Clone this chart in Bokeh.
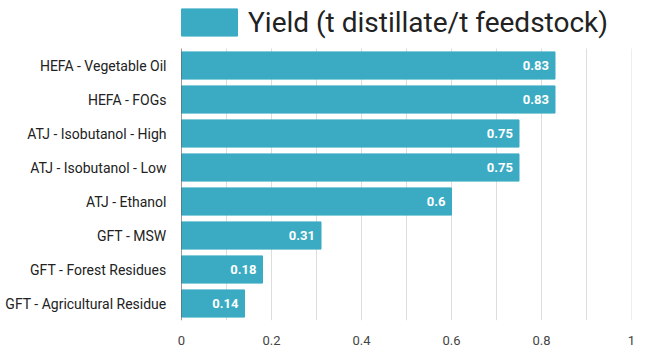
from bokeh.plotting import figure
from bokeh.models import ColumnDataSource, Range1d, FixedTicker, Legend, LegendItem, LabelSet
from bokeh.embed import file_html
from bokeh.resources import INLINE
from bokeh.core.properties import value

categories = ["HEFA - Vegetable Oil", "HEFA - FOGs", "ATJ - Isobutanol - High",
              "ATJ - Isobutanol - Low", "ATJ - Ethanol", "GFT - MSW",
              "GFT - Forest Residues", "GFT - Agricultural Residue"]
yields = [0.83, 0.83, 0.75, 0.75, 0.6, 0.31, 0.18, 0.14]
series_name = "Yield (t distillate/t feedstock)"
x_ticks = [0, 0.2, 0.4, 0.6, 0.8, 1]
x_grid = [0.1, 0.2, 0.3, 0.4, 0.5, 0.6, 0.7, 0.8, 0.9, 1.0]

n = len(categories)
ypos = list(range(n, 0, -1))  # first category on top
src = ColumnDataSource(dict(y=ypos, val=yields, lab=[f"{v:g}" for v in yields]))

FRAME_W, FRAME_H = 450, 320
ROW_PX = 34
TOP_PX = 48  # space above the rows for the legend
p = figure(frame_width=FRAME_W, frame_height=FRAME_H, output_backend="svg", toolbar_location=None,
           x_range=Range1d(0, 1), y_range=Range1d(0.5, n + 0.5 + TOP_PX / ROW_PX),
           min_border_left=181, min_border_right=18, min_border_top=0, min_border_bottom=35)
p.outline_line_color = None
FONT = "Roboto"
COLOR = "#3BABC3"

# grid lines and axis line only across the rows
p.segment(x0=x_grid, x1=x_grid, y0=[0.5] * len(x_grid), y1=[n + 0.5] * len(x_grid),
          line_color="#dddddd", line_width=1)
r = p.hbar(y="y", right="val", left=0, height=0.8, source=src, color=COLOR)
p.segment(x0=[0], x1=[0], y0=[0.5], y1=[n + 0.5], line_color="#333333", line_width=1)

p.grid.grid_line_color = None

p.xaxis.ticker = FixedTicker(ticks=x_ticks)
p.xaxis.axis_line_color = None
p.xaxis.major_tick_line_color = None
p.xaxis.minor_tick_line_color = None
p.xaxis.major_label_text_font = FONT
p.xaxis.major_label_text_font_size = "13px"
p.xaxis.major_label_text_color = "#444444"
p.xaxis.major_label_standoff = 9

p.yaxis.ticker = FixedTicker(ticks=ypos)
p.yaxis.major_label_overrides = {y: c for y, c in zip(ypos, categories)}
p.yaxis.axis_line_color = None
p.yaxis.major_tick_line_color = None
p.yaxis.minor_tick_line_color = None
p.yaxis.major_label_text_font = FONT
p.yaxis.major_label_text_font_size = "14px"
p.yaxis.major_label_text_color = "#222222"
p.yaxis.major_label_standoff = 9

labels = LabelSet(x="val", y="y", text="lab", source=src, x_offset=-6,
                  text_align="right", text_baseline="middle", text_color="white",
                  text_font=value(FONT), text_font_size="13px", text_font_style="bold")
p.add_layout(labels)

legend = Legend(items=[LegendItem(label=series_name, renderers=[r])],
                location=(-7, FRAME_H - 39.4), orientation="horizontal",
                glyph_width=70, glyph_height=34, label_standoff=4,
                label_text_font=FONT, label_text_font_size="28px", label_text_color="#222222",
                padding=0, margin=0, spacing=0,
                border_line_alpha=0, background_fill_alpha=0)
p.add_layout(legend)

open("out.html", "w").write(file_html(p, INLINE))
